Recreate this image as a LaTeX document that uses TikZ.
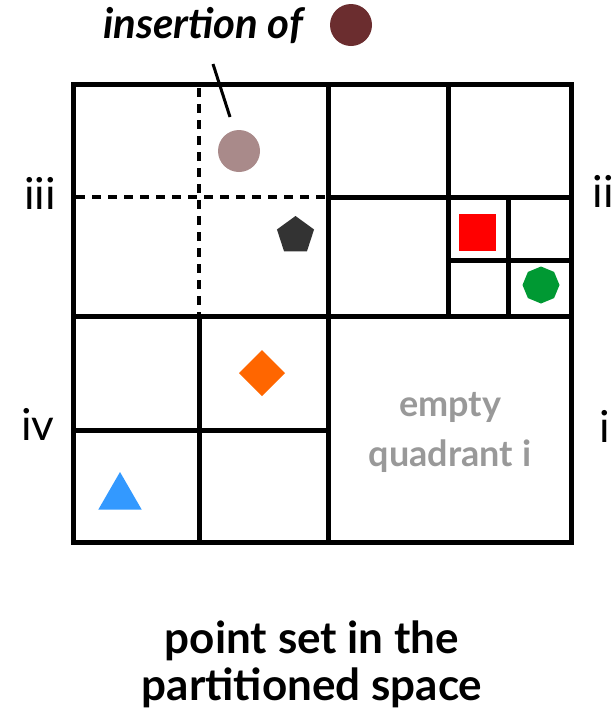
\documentclass[tikz,border=0pt]{standalone}
\usepackage{fontspec}
\setmainfont{Lato}
\usetikzlibrary{shapes.geometric}
\definecolor{newpt}{HTML}{6B2D2F}
\definecolor{ghostpt}{HTML}{A98A8A}
\definecolor{pentc}{HTML}{333333}
\definecolor{redc}{HTML}{FF0000}
\definecolor{greenc}{HTML}{009933}
\definecolor{orangec}{HTML}{FF6600}
\definecolor{bluec}{HTML}{3399FF}
\definecolor{emptyc}{HTML}{999999}
\tikzset{
  grid/.style={line width=5pt, line cap=rect},
  dgrid/.style={line width=4.5pt, dash pattern=on 9pt off 7pt},
  lbl/.style={font=\fontsize{44}{46}\selectfont, anchor=center},
  pt/.style={inner sep=0pt, outer sep=0pt, draw=none},
}
\begin{document}
\begin{tikzpicture}[x=1pt,y=-1pt]
\useasboundingbox (0,0) rectangle (615,726);
% dashed split of top-left quadrant
\draw[dgrid] (199,88) -- (199,314);
\draw[dgrid] (76,197) -- (326,197);
% solid grid
\draw[grid] (73,84) rectangle (571,542);
\draw[grid] (328,84) -- (328,542);
\draw[grid] (73,316) -- (571,316);
\draw[grid] (448,84) -- (448,316);
\draw[grid] (328,197) -- (571,197);
\draw[grid] (508,197) -- (508,316);
\draw[grid] (448,260) -- (571,260);
\draw[grid] (199,316) -- (199,542);
\draw[grid] (73,430) -- (328,430);
% points
\node[pt, circle, fill=ghostpt, minimum size=42pt] (ghost) at (239,151) {};
\node[pt, regular polygon, regular polygon sides=5, fill=pentc, minimum size=39pt] (pent) at (295.5,235.5) {};
\node[pt, rectangle, fill=redc, minimum size=37pt] (sq) at (477,232) {};
\node[pt, regular polygon, regular polygon sides=8, fill=greenc, minimum size=37pt, rotate=22.5] (oct) at (541,285) {};
\node[pt, diamond, fill=orangec, minimum size=46pt] (dia) at (262,373) {};
\node[pt, regular polygon, regular polygon sides=3, fill=bluec, minimum size=50pt] (tri) at (120,497) {};
% insertion label
\node[font=\fontsize{42}{44}\selectfont\bfseries\itshape, anchor=center] (ins) at (203,26) {insertion of};
\node[pt, circle, fill=newpt, minimum size=42pt] (newp) at (351,25) {};
\coordinate (tick) at (213,64);
\coordinate (tickend) at (230,117);
\draw[line width=3pt] (tick) -- (tickend);
% quadrant labels
\node[lbl] (q3) at (40,193) {iii};
\node[lbl] (q2) at (603,191) {ii};
\node[lbl] (q4) at (38,424) {iv};
\node[lbl] (q1) at (605,426) {i};
\node[font=\fontsize{36}{50}\selectfont\bfseries, text=emptyc, align=center] (empty) at (450,432) {empty\\quadrant i};
% caption
\node[font=\fontsize{44}{47}\selectfont\bfseries, align=center] (cap) at (312,664) {point set in the\\partitioned space};
\end{tikzpicture}
\end{document}
